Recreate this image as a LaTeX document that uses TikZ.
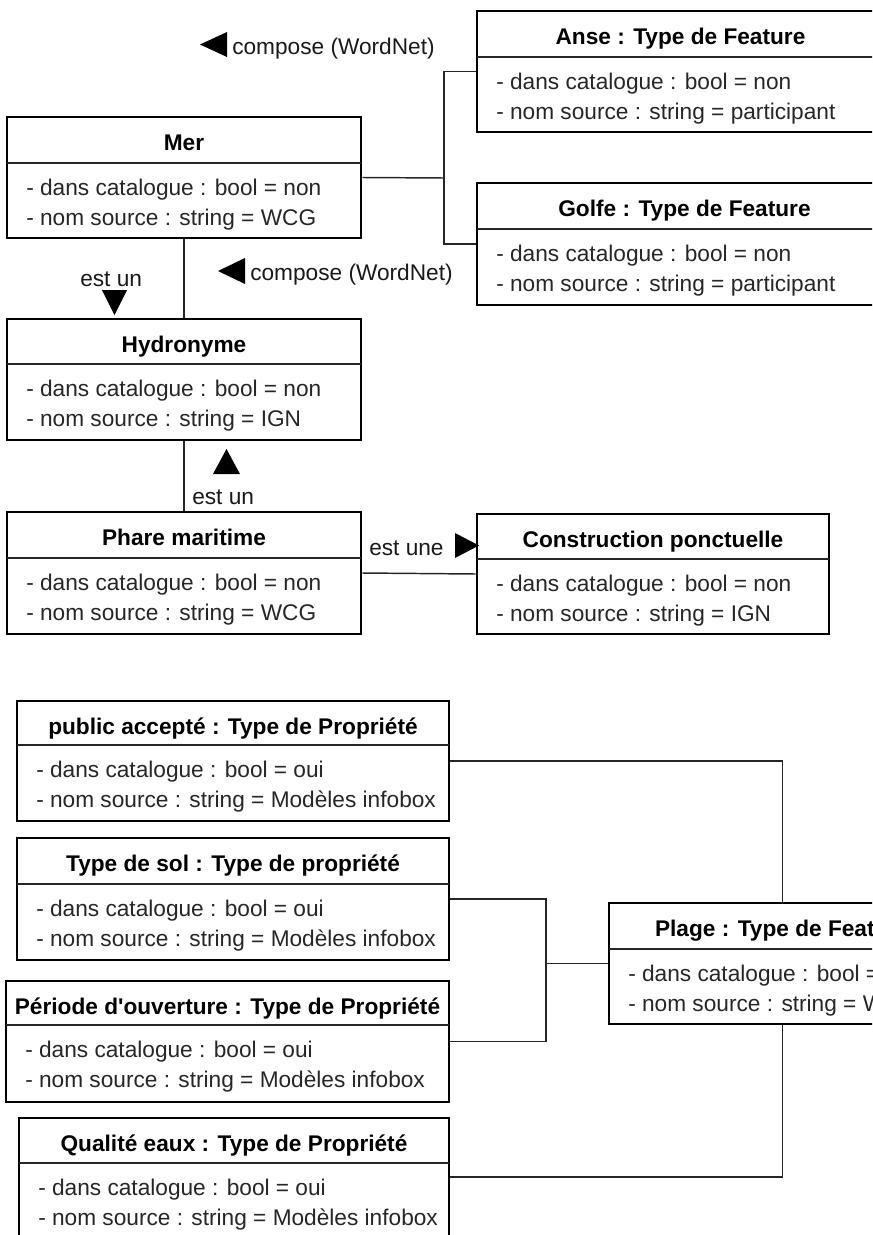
\documentclass[tikz,border=0pt]{standalone}
\usepackage{fontspec}
\setmainfont{Liberation Sans}
\usetikzlibrary{fit}

\tikzset{
  classbox/.style={draw=black, line width=2.2pt, inner sep=0pt},
  divider/.style={draw=black!85, line width=0.9pt},
  conn/.style={draw=black!85, line width=1.1pt},
  title/.style={font=\fontsize{17}{20}\selectfont\bfseries, inner sep=0pt, text=black},
  attr/.style={font=\fontsize{17}{20}\selectfont, inner sep=0pt, text=black!85},
  lbl/.style={font=\fontsize{17}{20}\selectfont, inner sep=0pt, text=black!90},
  tri/.style={fill=black},
}

% UML class: name, left, top, right, divider, bottom, title, attribute 1, attribute 2
\newcommand\umlclass[9]{%
  \node[classbox, fit={(#2,#3) (#4,#6)}] (#1) {};
  \draw[divider] (#2,#5) -- (#4,#5);
  \node[title, anchor=base] (#1-t) at ({(#2+#4)/2},#3+33) {#7};
  \node[attr, anchor=base west] (#1-a) at (#2+19,#5+32.5) {#8};
  \node[attr, anchor=base west] (#1-b) at (#2+19,#5+62.5) {#9};
}

\begin{document}
\begin{tikzpicture}[x=0.75pt, y=-0.75pt]
\useasboundingbox (0,0) rectangle (872,1235);
\clip (0,0) rectangle (872,1235);

% upper part: feature types
\umlclass{mer}{7}{117}{361}{163}{238}{Mer}{- dans catalogue : bool = non}{- nom source : string = WCG}
\umlclass{anse}{477}{11}{884}{57}{132}{Anse : Type de Feature}{- dans catalogue : bool = non}{- nom source : string = participant}
\umlclass{golfe}{477}{183}{892}{229}{305}{Golfe : Type de Feature}{- dans catalogue : bool = non}{- nom source : string = participant}
\umlclass{hyd}{7}{319}{361}{364}{440}{Hydronyme}{- dans catalogue : bool = non}{- nom source : string = IGN}
\umlclass{phare}{7}{512}{361}{558}{634}{Phare maritime}{- dans catalogue : bool = non}{- nom source : string = WCG}
\umlclass{constr}{477}{514}{829}{559}{634}{Construction ponctuelle}{- dans catalogue : bool = non}{- nom source : string = IGN}

\coordinate (j1) at (444,178);
\draw[conn] (mer.east) -- (j1);
\draw[conn] (anse.west) -| (j1);
\draw[conn] (golfe.west) -| (j1);
\draw[conn] (mer.south) -- (hyd.north);
\draw[conn] (hyd.south) -- (phare.north);
\draw[conn] (phare.east) -- (constr.west);

% association labels
\node[lbl, anchor=base west] (c1) at (232,54) {compose (WordNet)};
\fill[tri] (200,44.5) -- (227,32) -- (227,57) -- cycle;
\node[lbl, anchor=base west] (c2) at (250,280) {compose (WordNet)};
\fill[tri] (218,271) -- (245,258) -- (245,284) -- cycle;
\node[lbl, anchor=base west] (e1) at (80,286) {est un};
\fill[tri] (102,290) -- (127,290) -- (114.5,315) -- cycle;
\node[lbl, anchor=base west] (e2) at (192,504) {est un};
\fill[tri] (213,474) -- (240,474) -- (226.5,449) -- cycle;
\node[lbl, anchor=base west] (e3) at (369,555) {est une};
\fill[tri] (455,533) -- (455,558) -- (479,545.5) -- cycle;

% lower part: property types
\umlclass{pub}{17}{701}{449}{745}{821}{public accepté : Type de Propriété}{- dans catalogue : bool = oui}{- nom source : string = Modèles infobox}
\umlclass{sol}{17}{838}{449}{884}{960}{Type de sol : Type de propriété}{- dans catalogue : bool = oui}{- nom source : string = Modèles infobox}
\umlclass{per}{6}{981}{449}{1025}{1102}{Période d\textquotesingle ouverture : Type de Propriété}{- dans catalogue : bool = oui}{- nom source : string = Modèles infobox}
\umlclass{qual}{19}{1118}{449}{1163}{1236}{Qualité eaux : Type de Propriété}{- dans catalogue : bool = oui}{- nom source : string = Modèles infobox}
\umlclass{plage}{609}{903}{956}{949}{1024}{Plage : Type de Feature}{- dans catalogue : bool = oui}{- nom source : string = WCG}

\coordinate (j2) at (546,963.5);
\draw[conn] (pub.east) -| (plage.north);
\draw[conn] (sol.east) -| (j2);
\draw[conn] (per.east) -| (j2);
\draw[conn] (j2) -- (plage.west);
\draw[conn] (qual.east) -| (plage.south);
\end{tikzpicture}
\end{document}
